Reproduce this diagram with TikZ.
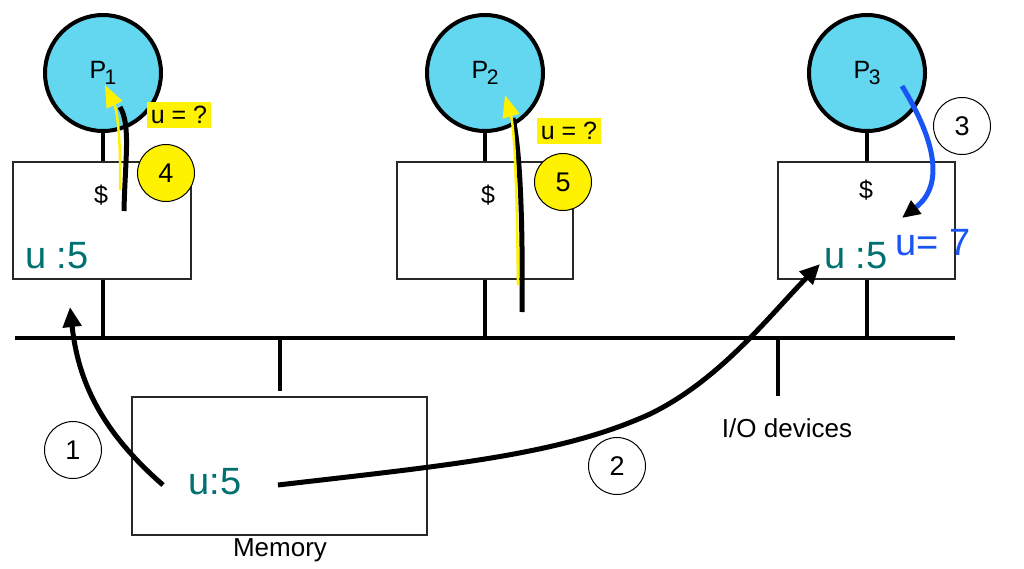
\documentclass[tikz,border=0pt]{standalone}
\usepackage{fontspec}
\setmainfont{Liberation Sans}
\usetikzlibrary{arrows.meta}
\definecolor{procfill}{RGB}{99,214,240}
\definecolor{tealtxt}{RGB}{0,112,112}
\definecolor{bluarrow}{RGB}{25,85,245}
\definecolor{boxline}{RGB}{40,40,40}
\newcommand{\psub}[1]{P\kern-1.5pt\raisebox{-6pt}{\fontsize{21}{21}\selectfont #1}}
\begin{document}
\begin{tikzpicture}[x=1pt,y=-1pt,
  proc/.style={circle,draw=black,line width=4pt,fill=procfill,minimum size=116pt,inner sep=0pt,font=\fontsize{25}{25}\selectfont},
  cachebox/.style={rectangle,draw=boxline,line width=1.5pt,fill=white,minimum height=117pt,inner sep=0pt},
  wire/.style={line width=4pt,draw=black},
  f24/.style={font=\fontsize{25}{28}\selectfont},
  f26/.style={font=\fontsize{26}{30}\selectfont},
  bigval/.style={font=\fontsize{38}{42}\selectfont,text=tealtxt},
  num/.style={circle,draw=black,line width=1pt,minimum size=57pt,inner sep=0pt,font=\fontsize{27}{27}\selectfont},
  ynum/.style={num,fill=yellow},
  qlabel/.style={fill=yellow,inner xsep=3.5pt,inner ysep=4pt,font=\fontsize{25}{27}\selectfont},
  bigarrow/.style={line width=5pt,draw=black,-{Triangle[length=20pt,width=18pt]}},
  blackline/.style={line width=5pt,draw=black},
  yarrow/.style={line width=2.5pt,draw=yellow,-{Triangle[length=22pt,width=17pt,fill=yellow,color=yellow]}}
]
\useasboundingbox (0,0) rectangle (1024,568);

% bus
\coordinate (busL) at (15,338);
\coordinate (busR) at (955,338);
\draw[wire] (busL) -- (busR);

% processors and caches
\node[proc] (p1) at (103,73) {\psub{1}};
\node[proc] (p2) at (485,73) {\psub{2}};
\node[proc] (p3) at (867,73) {\psub{3}};

\node[cachebox,minimum width=178pt] (c1) at (102,220.5) {};
\node[cachebox,minimum width=176pt] (c2) at (485,220.5) {};
\node[cachebox,minimum width=177pt] (c3) at (866.5,220.5) {};

\draw[wire] (p1.south) -- (p1.south |- c1.north);
\draw[wire] (p2.south) -- (p2.south |- c2.north);
\draw[wire] (p3.south) -- (p3.south |- c3.north);
\draw[wire] (p1.south |- c1.south) -- (p1.south |- busL);
\draw[wire] (p2.south |- c2.south) -- (p2.south |- busL);
\draw[wire] (p3.south |- c3.south) -- (p3.south |- busL);

% memory
\node[cachebox,minimum width=295pt,minimum height=138pt] (mem) at (279.5,466) {};
\draw[wire] (mem.north |- busL) -- ([yshift=5pt]mem.north);
\node[f26] (memlbl) at (280,550) {Memory};

% I/O
\coordinate (io) at (778,396);
\draw[wire] (io |- busL) -- (io);
\node[f26] (iolbl) at (787,428) {I/O devices};

% texts in caches
\node[f24] (d1) at (101,195) {\$};
\node[f24] (d2) at (488,195) {\$};
\node[f24] (d3) at (866,190) {\$};
\node[bigval,anchor=west,inner sep=0pt] (u1) at (25,256) {u :5};
\node[bigval,inner sep=0pt] (u3) at (856,256) {u :5};
\node[bigval,inner sep=0pt] (memu) at (215,482) {u:5};
\node[font=\fontsize{38}{42}\selectfont,text=bluarrow,inner sep=0pt] (u7) at (933,243) {u= 7};

% step numbers
\node[num] (n1) at (73,450) {1};
\node[num] (n2) at (617,466) {2};
\node[num] (n3) at (962,126) {3};
\node[ynum] (n4) at (166,173) {4};
\node[ynum] (n5) at (563,182) {5};

% arrow 1
\coordinate (a1s) at (163,485);
\coordinate (a1e) at (70,307);
\draw[bigarrow] (a1s) .. controls (100,430) and (78,380) .. (a1e);

% arrow 2
\coordinate (a2s) at (278,485);
\coordinate (a2m) at (650,414);
\coordinate (a2e) at (820,264);
\draw[bigarrow] (a2s) .. controls (450,465) and (560,455) .. (a2m) .. controls (720,380) and (770,315) .. (a2e);

% arrow 3
\coordinate (a3s) at (902,86);
\coordinate (a3e) at (902,218);
\draw[line width=5pt,draw=bluarrow,-{Triangle[length=18pt,width=16pt,fill=black,color=black]}] (a3s) .. controls (935,140) and (945,185) .. (a3e);

% arrow 4
\coordinate (a4s) at (124,211);
\coordinate (a4e) at (120,107);
\coordinate (y4s) at (120,190);
\coordinate (y4e) at (105,85);
\draw[blackline] (a4s) .. controls (125,160) and (131,125) .. (a4e);
\draw[yarrow] (y4s) .. controls (121,150) and (118,112) .. (y4e);

% arrow 5
\coordinate (a5s) at (522,312);
\coordinate (a5e) at (513,118);
\coordinate (y5s) at (518,285);
\coordinate (y5e) at (505,95);
\draw[blackline] (a5s) .. controls (523,220) and (520,150) .. (a5e);
\draw[yarrow] (y5s) .. controls (517,200) and (515,130) .. (y5e);

% question labels
\node[qlabel] (q1) at (179,115) {u = ?};
\node[qlabel] (q2) at (569,131) {u = ?};
\end{tikzpicture}
\end{document}
